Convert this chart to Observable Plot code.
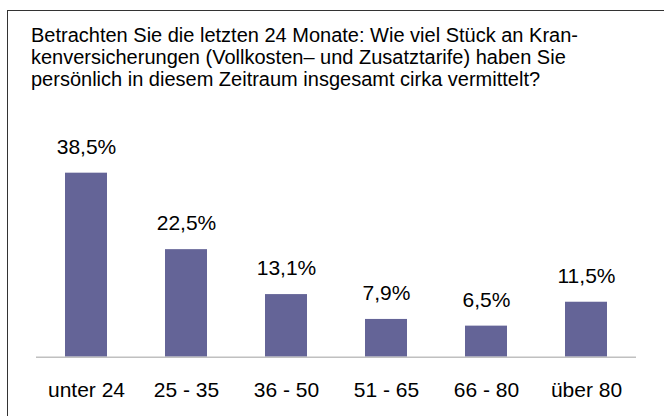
<!DOCTYPE html>
<html><head><meta charset="utf-8">
<script src="https://cdn.jsdelivr.net/npm/d3@7"></script>
<script src="https://cdn.jsdelivr.net/npm/@observablehq/plot@0.6"></script>
<style>
html,body{margin:0;padding:0;width:664px;height:416px;overflow:hidden;background:#fff;}
#wrap{position:relative;width:664px;height:416px;font-family:"Liberation Sans",Arial,sans-serif;}
#frame{position:absolute;left:7px;top:10px;width:720px;height:480px;border:1.5px solid #333;}
#title{position:absolute;left:31px;top:23.5px;font-size:20px;line-height:22px;color:#000;white-space:nowrap;}
#chart{position:absolute;left:0;top:0;}
</style></head><body>
<div id="wrap">
<div id="frame"></div>
<div id="title">Betrachten Sie die letzten 24 Monate: Wie viel Stück an Kran-<br>kenversicherungen (Vollkosten– und Zusatztarife) haben Sie<br>persönlich in diesem Zeitraum insgesamt cirka vermittelt?</div>
<div id="chart"></div>
</div>
<script>
const categories = ["unter 24", "25 - 35", "36 - 50", "51 - 65", "66 - 80", "über 80"];
const shares = [38.5, 22.5, 13.1, 7.9, 6.5, 11.5];

const data = categories.map((c, i) => ({category: c, share: shares[i]}));
const fmt = v => v.toFixed(1).replace(".", ",") + "%";

const chart = Plot.plot({
  width: 664,
  height: 416,
  marginLeft: 36,
  marginRight: 28,
  marginTop: 165.5,
  marginBottom: 59.3,
  style: {fontFamily: '"Liberation Sans", Arial, sans-serif', fontSize: "21px", color: "#000", background: "transparent", overflow: "visible"},
  x: {domain: categories, paddingInner: 0.58, paddingOuter: 0.29, label: null},
  y: {domain: [0, 40], axis: null},
  marks: [
    Plot.barY(data, {x: "category", y: "share", fill: "#646497"}),
    Plot.ruleY([0], {stroke: "#c0c0c0", strokeWidth: 1.5}),
    Plot.text(data, {x: "category", y: "share", text: d => fmt(d.share), dy: -19.5, lineAnchor: "bottom", fontSize: 21, fill: "#000"}),
    Plot.axisX({tickSize: 0, tickPadding: 24.5, fontSize: 21, label: null})
  ]
});
document.getElementById("chart").appendChild(chart);
</script>
</body></html>
